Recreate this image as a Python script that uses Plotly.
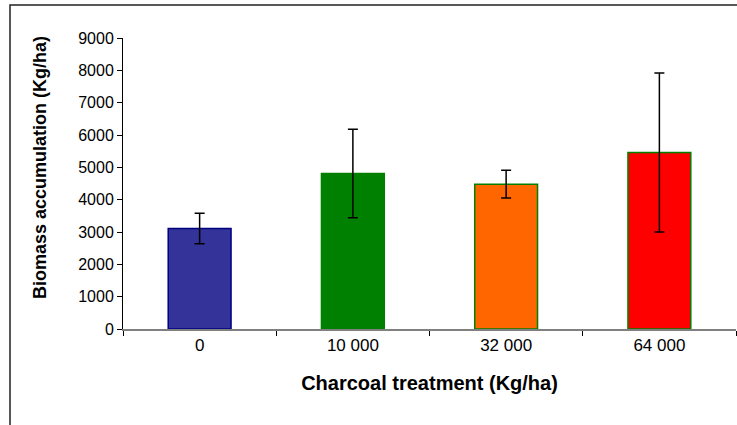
import plotly.graph_objects as go

categories = ["0", "10 000", "32 000", "64 000"]
biomass = [3110, 4810, 4480, 5460]
errors = [470, 1370, 430, 2460]
fill_colors = ["#333399", "#008000", "#FF6600", "#FF0000"]
line_colors = ["#000080", "#008000", "#008000", "#008000"]
x_title = "Charcoal treatment (Kg/ha)"
y_title = "Biomass accumulation (Kg/ha)"

W, H = 737, 425
ml, mr, mt, mb = 123, 1, 38, 96
pw, ph = W - ml - mr, H - mt - mb

fig = go.Figure(go.Bar(
    x=categories, y=biomass,
    width=0.41,
    marker=dict(color=fill_colors, line=dict(color=line_colors, width=1.5)),
    error_y=dict(type="data", array=errors, visible=True, color="#000000",
                 thickness=1.5, width=5),
))

# outer frame (top and left edges visible)
fx0, fy0 = 10, 5
fig.add_shape(type="rect", xref="paper", yref="paper",
              x0=(fx0 - ml) / pw, x1=(W + 5 - ml) / pw,
              y0=-(H + 5 - mt - ph) / ph, y1=(H - fy0 - mb) / ph,
              line=dict(color="#222222", width=1.5), layer="below")

# y-axis title as annotation (sits above plot centre in reference)
fig.add_annotation(text="<b>" + y_title + "</b>", textangle=-90,
                   xref="paper", yref="paper",
                   x=(40 - ml) / pw, y=(H - mb - 167) / ph,
                   xanchor="center", yanchor="middle", showarrow=False,
                   font=dict(size=18))

fig.update_layout(
    width=W, height=H,
    margin=dict(l=ml, r=mr, t=mt, b=mb, autoexpand=False),
    paper_bgcolor="white", plot_bgcolor="white",
    font=dict(family="Liberation Sans, Arial, sans-serif", color="#000000", size=16),
    showlegend=False,
)
fig.update_xaxes(
    type="category", tickson="boundaries", ticks="outside", ticklen=5,
    tickcolor="#000000", showline=True, linecolor="#808080", linewidth=1.5,
    showgrid=False, tickfont=dict(size=17),
    title=dict(text="<b>" + x_title + "</b>", font=dict(size=20), standoff=22),
)
fig.update_yaxes(
    range=[0, 9000], dtick=1000, ticks="outside", ticklen=5, tickcolor="#000000",
    showline=True, linecolor="#000000", linewidth=1, showgrid=False, zeroline=False,
    tickfont=dict(size=16),
)
fig.write_html("out.html", config={"displayModeBar": False},
               post_script="document.body.style.margin='0';")
